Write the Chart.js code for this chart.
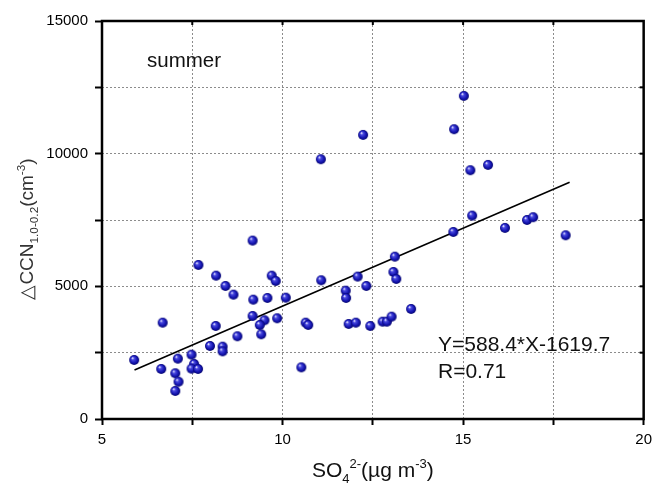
<!DOCTYPE html>
<html>
<head>
<meta charset="utf-8">
<script src="https://cdn.jsdelivr.net/npm/chart.js@4/dist/chart.umd.min.js"></script>
<style>
  html, body { margin: 0; padding: 0; background: #fff; }
  #wrap { width: 658px; height: 484px; }
</style>
</head>
<body>
<div id="wrap"><canvas id="chart" width="658" height="484"></canvas></div>
<script>
// SO4 2- (ug m-3) and delta CCN (cm-3)
const so4 = [
    5.89, 6.68, 6.64, 7.03, 7.12, 7.03, 7.10, 7.67, 7.48, 7.55,
    7.48, 7.66, 7.99, 8.16, 8.15, 8.34, 8.34, 8.42, 8.64, 8.75,
    9.17, 9.19, 9.17, 9.50, 9.37, 9.41, 9.58, 9.70, 9.81, 9.85,
    10.09, 10.52, 10.64, 10.71, 11.07, 11.75, 11.76, 11.83, 12.03, 12.08,
    12.32, 12.43, 12.77, 12.89, 13.02, 13.56, 13.11, 13.07, 13.15, 14.73,
    15.25, 16.16, 16.77, 16.94, 17.84, 15.02, 14.75, 15.20, 15.69, 11.06,
    12.23
];
const dccn = [
    2224, 3630, 1885, 1723, 1406, 1056, 2274, 5806, 2424, 2074,
    1897, 1885, 2752, 5403, 3506, 2726, 2551, 5014, 4687, 3118,
    6723, 4498, 3883, 3720, 3544, 3192, 4562, 5403, 5203, 3796,
    4574, 1948, 3632, 3544, 5228, 4838, 4562, 3582, 3632, 5366,
    5014, 3506, 3669, 3669, 3858, 4147, 6119, 5542, 5278, 7050,
    7665, 7201, 7502, 7604, 6925, 12177, 10922, 9375, 9576, 9790,
    10707
];
// ends of the fitted line Y=588.4*X-1619.7
const fitX = [5.9, 17.95];
const fitY = [1850, 8920];

const xTicks = [5, 10, 15, 20];
const yTicks = [0, 5000, 10000, 15000];

const FONT = "'Liberation Sans', Arial, sans-serif";

// little shaded ball used as marker
function makeBall(r) {
    const c = document.createElement('canvas');
    c.width = c.height = r * 2 + 2;
    const g = c.getContext('2d');
    const cx = r + 1, cy = r + 1;
    const grad = g.createRadialGradient(cx - r * 0.35, cy - r * 0.4, 0.3, cx, cy, r);
    grad.addColorStop(0, '#eeeeff');
    grad.addColorStop(0.25, '#4a4ae0');
    grad.addColorStop(0.7, '#1414b0');
    grad.addColorStop(1, '#06066e');
    g.fillStyle = grad;
    g.beginPath();
    g.arc(cx, cy, r, 0, Math.PI * 2);
    g.fill();
    return c;
}

// draw text runs with sub/superscripts
function richWidth(ctx, parts, size) {
    let w = 0;
    parts.forEach(p => {
        ctx.font = (p.s ? size * 0.62 : size) + 'px ' + FONT;
        w += ctx.measureText(p.t).width;
    });
    return w;
}
function drawRich(ctx, parts, x, y, size) {
    parts.forEach(p => {
        const fs = p.s ? size * 0.62 : size;
        ctx.font = fs + 'px ' + FONT;
        let dy = 0;
        if (p.s === 'sub') dy = size * 0.28;
        if (p.s === 'sup') dy = -size * 0.42;
        ctx.fillText(p.t, x, y + dy);
        x += ctx.measureText(p.t).width;
    });
}

const xTitle = [
    { t: 'SO' }, { t: '4', s: 'sub' }, { t: '2-', s: 'sup' },
    { t: '(\u00b5g m' }, { t: '-3', s: 'sup' }, { t: ')' }
];
const yTitle = [
    { t: '\u25b3CCN' }, { t: '1.0-0.2', s: 'sub' },
    { t: '(cm' }, { t: '-3', s: 'sup' }, { t: ')' }
];

const decorPlugin = {
    id: 'decor',
    afterDraw(chart) {
        const ctx = chart.ctx;
        const a = chart.chartArea;
        const sx = chart.scales.x, sy = chart.scales.y;
        ctx.save();

        // frame
        ctx.strokeStyle = '#000';
        ctx.lineWidth = 2.5;
        ctx.strokeRect(a.left, a.top, a.right - a.left, a.bottom - a.top);

        // inward ticks on top and right
        ctx.lineWidth = 2;
        for (let v = 7.5; v < 20; v += 2.5) {
            const px = sx.getPixelForValue(v);
            ctx.beginPath(); ctx.moveTo(px, a.top); ctx.lineTo(px, a.top + 4); ctx.stroke();
        }
        for (let v = 2500; v < 15000; v += 2500) {
            const py = sy.getPixelForValue(v);
            ctx.beginPath(); ctx.moveTo(a.right, py); ctx.lineTo(a.right - 4, py); ctx.stroke();
        }

        ctx.fillStyle = '#111';
        ctx.textBaseline = 'alphabetic';
        ctx.textAlign = 'left';

        // x title
        const xs = 21;
        const xw = richWidth(ctx, xTitle, xs);
        drawRich(ctx, xTitle, (a.left + a.right) / 2 - xw / 2, 477, xs);

        // y title
        const ys = 19;
        const yw = richWidth(ctx, yTitle, ys);
        ctx.translate(33, 229);
        ctx.rotate(-Math.PI / 2);
        ctx.fillStyle = '#333';
        drawRich(ctx, yTitle, -yw / 2, 0, ys);
        ctx.setTransform(1, 0, 0, 1, 0, 0);

        // annotations
        ctx.fillStyle = '#111';
        ctx.font = '20.5px ' + FONT;
        ctx.fillText('summer', 147, 67);
        ctx.font = '21px ' + FONT;
        ctx.fillText('Y=588.4*X-1619.7', 438, 351);
        ctx.fillText('R=0.71', 438, 378);
        ctx.restore();
    }
};

const points = so4.map((x, i) => ({ x: x, y: dccn[i] }));
const fitLine = fitX.map((x, i) => ({ x: x, y: fitY[i] }));

new Chart(document.getElementById('chart'), {
    type: 'scatter',
    data: {
        datasets: [
            {
                label: 'fit',
                type: 'line',
                data: fitLine,
                borderColor: '#000',
                borderWidth: 1.6,
                pointRadius: 0,
                fill: false,
                order: 2
            },
            {
                label: 'summer',
                data: points,
                pointStyle: makeBall(5),
                pointRadius: 5,
                order: 1
            }
        ]
    },
    options: {
        responsive: false,
        animation: false,
        events: [],
        layout: { padding: { top: 21, right: 10, left: 0, bottom: 0 } },
        plugins: {
            legend: { display: false },
            tooltip: { enabled: false }
        },
        scales: {
            x: {
                type: 'linear',
                min: 5,
                max: 20,
                afterBuildTicks: scale => {
                    scale.ticks = [];
                    for (let v = 5; v <= 20; v += 2.5) scale.ticks.push({ value: v });
                },
                afterFit: scale => { scale.height = 65; },
                ticks: {
                    callback: v => xTicks.includes(v) ? String(v) : '',
                    color: '#000',
                    font: { family: FONT, size: 15 },
                    padding: 6,
                    maxRotation: 0
                },
                grid: {
                    color: '#8c8c8c',
                    lineWidth: 1,
                    tickLength: 6,
                    tickColor: '#000',
                    tickWidth: 2,
                    tickBorderDash: []
                },
                border: { display: false, dash: [2, 2] }
            },
            y: {
                min: 0,
                max: 15000,
                afterBuildTicks: scale => {
                    scale.ticks = [];
                    for (let v = 0; v <= 15000; v += 2500) scale.ticks.push({ value: v });
                },
                afterFit: scale => { scale.width = 102; },
                ticks: {
                    callback: v => yTicks.includes(v) ? String(v) : '',
                    color: '#000',
                    font: { family: FONT, size: 15 },
                    padding: 7
                },
                grid: {
                    color: '#8c8c8c',
                    lineWidth: 1,
                    tickLength: 7,
                    tickColor: '#000',
                    tickWidth: 2,
                    tickBorderDash: []
                },
                border: { display: false, dash: [2, 2] }
            }
        }
    },
    plugins: [decorPlugin]
});
</script>
</body>
</html>
